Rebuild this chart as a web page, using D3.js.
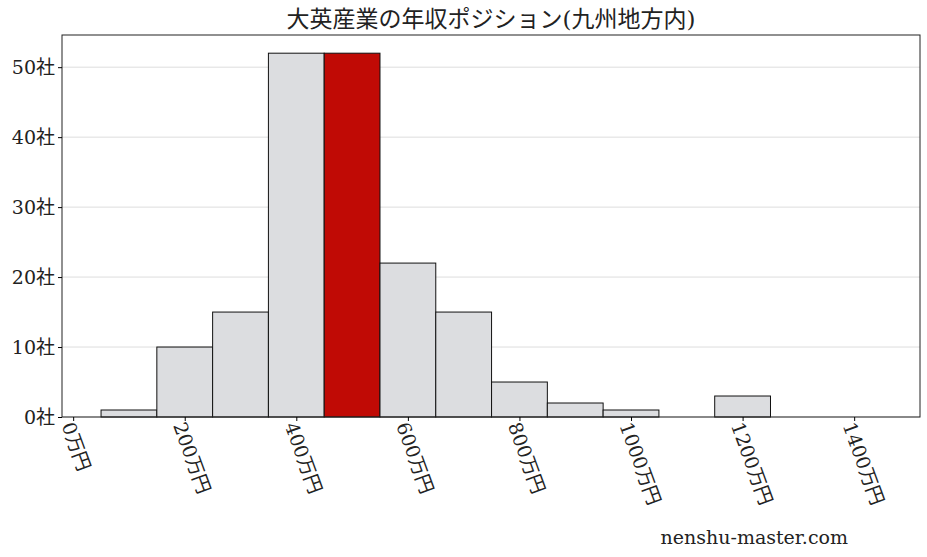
<!DOCTYPE html><html><head><meta charset="utf-8">
<script src="https://cdn.jsdelivr.net/npm/d3@7/dist/d3.min.js"></script>
<style>body{margin:0;background:#fff}text{font-family:"DejaVu Serif","Noto Sans CJK JP",serif}</style></head><body>
<svg id="c" width="927" height="557"></svg>
<script>
const bins=[100,200,300,400,500,600,700,800,900,1000,1100,1200];
const counts=[1,10,15,52,52,22,15,5,2,1,0,3];
const highlight=500;
const xTicks=[0,200,400,600,800,1000,1200,1400];
const yTicks=[0,10,20,30,40,50];
const svg=d3.select("#c");
const L=62,R=920,T=35,B=417;
const x=d3.scaleLinear().domain([-20,1518]).range([L,R]);
const y=d3.scaleLinear().domain([0,54.6]).range([B,T]);
svg.append("g").selectAll("line").data(yTicks).join("line")
 .attr("x1",L).attr("x2",R).attr("y1",d=>y(d)).attr("y2",d=>y(d)).attr("stroke","#ddd");
svg.append("g").selectAll("rect").data(bins.map((b,i)=>({b,c:counts[i]})).filter(d=>d.c>0)).join("rect")
 .attr("x",d=>x(d.b-50)).attr("width",d=>x(d.b+50)-x(d.b-50)).attr("y",d=>y(d.c)).attr("height",d=>B-y(d.c))
 .attr("fill",d=>d.b===highlight?"#c00a05":"#dcdde0").attr("stroke","#111").attr("stroke-width",1);
svg.append("rect").attr("x",L).attr("y",T).attr("width",R-L).attr("height",B-T).attr("fill","none").attr("stroke","#222");
const ya=svg.append("g").attr("transform",`translate(${L},0)`).call(d3.axisLeft(y).tickValues(yTicks).tickFormat(d=>d+"社").tickSize(4));
ya.select(".domain").remove();
ya.selectAll("text").attr("font-size",19).attr("fill","#222");
const xa=svg.append("g").attr("transform",`translate(0,${B})`).call(d3.axisBottom(x).tickValues(xTicks).tickFormat(d=>d+"万円").tickSize(4));
xa.select(".domain").remove();
xa.selectAll("text").attr("font-size",19).attr("fill","#222").attr("text-anchor","start")
 .attr("transform","translate(-6,6) rotate(70)").attr("dy","0.35em").attr("y",0).attr("x",0);
svg.append("text").attr("x",491).attr("y",27).attr("text-anchor","middle").attr("font-size",23).attr("fill","#222").text("大英産業の年収ポジション(九州地方内)");
svg.append("text").attr("x",848).attr("y",544).attr("text-anchor","end").attr("font-size",19).attr("fill","#222").text("nenshu-master.com");
</script></body></html>
